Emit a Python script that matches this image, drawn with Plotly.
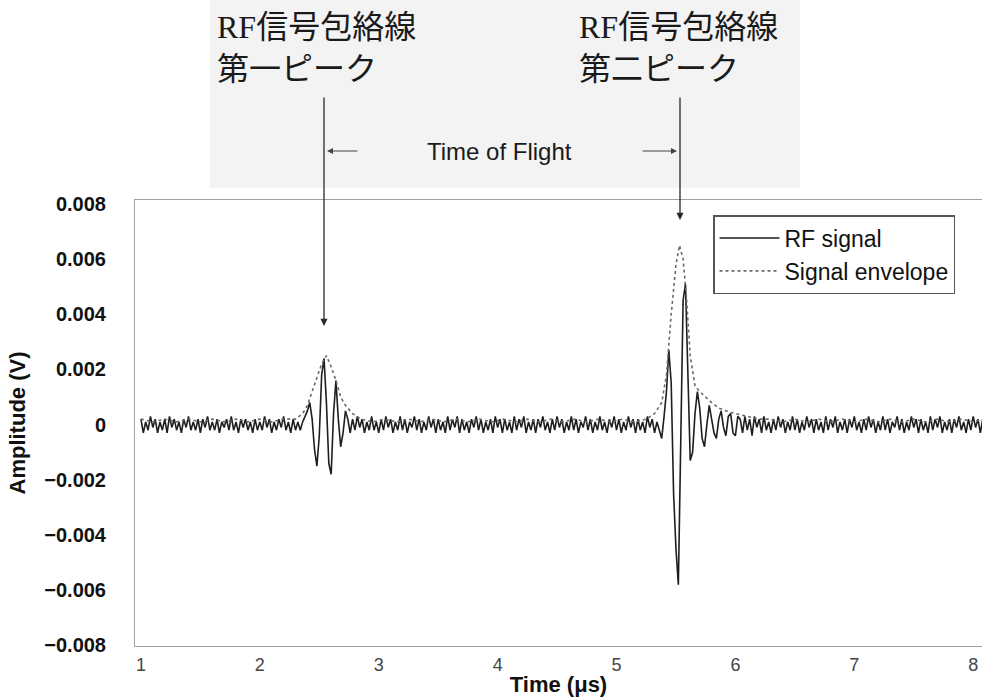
import plotly.graph_objects as go

# ---------------- data ----------------
time_us = [
    1.00,1.02,1.04,1.06,1.08,1.10,1.12,1.14,1.16,1.18,1.20,1.22,1.24,1.26,1.28,1.30,1.32,1.34,1.36,1.38,1.40,1.42,1.44,1.46,1.48,
    1.50,1.52,1.54,1.56,1.58,1.60,1.62,1.64,1.66,1.68,1.70,1.72,1.74,1.76,1.78,1.80,1.82,1.84,1.86,1.88,1.90,1.92,1.94,1.96,1.98,
    2.00,2.02,2.04,2.06,2.08,2.10,2.12,2.14,2.16,2.18,2.20,2.22,2.24,2.26,2.28,2.30,2.32,2.34,2.36,2.38,2.40,2.42,2.44,2.46,2.48,
    2.50,2.52,2.54,2.56,2.58,2.60,2.62,2.64,2.66,2.68,2.70,2.72,2.74,2.76,2.78,2.80,2.82,2.84,2.86,2.88,2.90,2.92,2.94,2.96,2.98,
    3.00,3.02,3.04,3.06,3.08,3.10,3.12,3.14,3.16,3.18,3.20,3.22,3.24,3.26,3.28,3.30,3.32,3.34,3.36,3.38,3.40,3.42,3.44,3.46,3.48,
    3.50,3.52,3.54,3.56,3.58,3.60,3.62,3.64,3.66,3.68,3.70,3.72,3.74,3.76,3.78,3.80,3.82,3.84,3.86,3.88,3.90,3.92,3.94,3.96,3.98,
    4.00,4.02,4.04,4.06,4.08,4.10,4.12,4.14,4.16,4.18,4.20,4.22,4.24,4.26,4.28,4.30,4.32,4.34,4.36,4.38,4.40,4.42,4.44,4.46,4.48,
    4.50,4.52,4.54,4.56,4.58,4.60,4.62,4.64,4.66,4.68,4.70,4.72,4.74,4.76,4.78,4.80,4.82,4.84,4.86,4.88,4.90,4.92,4.94,4.96,4.98,
    5.00,5.02,5.04,5.06,5.08,5.10,5.12,5.14,5.16,5.18,5.20,5.22,5.24,5.26,5.28,5.30,5.32,5.34,5.36,5.38,5.40,5.42,5.44,5.46,5.48,
    5.50,5.52,5.54,5.56,5.58,5.60,5.62,5.64,5.66,5.68,5.70,5.72,5.74,5.76,5.78,5.80,5.82,5.84,5.86,5.88,5.90,5.92,5.94,5.96,5.98,
    6.00,6.02,6.04,6.06,6.08,6.10,6.12,6.14,6.16,6.18,6.20,6.22,6.24,6.26,6.28,6.30,6.32,6.34,6.36,6.38,6.40,6.42,6.44,6.46,6.48,
    6.50,6.52,6.54,6.56,6.58,6.60,6.62,6.64,6.66,6.68,6.70,6.72,6.74,6.76,6.78,6.80,6.82,6.84,6.86,6.88,6.90,6.92,6.94,6.96,6.98,
    7.00,7.02,7.04,7.06,7.08,7.10,7.12,7.14,7.16,7.18,7.20,7.22,7.24,7.26,7.28,7.30,7.32,7.34,7.36,7.38,7.40,7.42,7.44,7.46,7.48,
    7.50,7.52,7.54,7.56,7.58,7.60,7.62,7.64,7.66,7.68,7.70,7.72,7.74,7.76,7.78,7.80,7.82,7.84,7.86,7.88,7.90,7.92,7.94,7.96,7.98,
    8.00,8.02,8.04,8.06,8.08,
]

# RF signal amplitude, in units of 0.1 mV (1e-4 V)
rf_signal_01mV = [
    2,-3,1,-2,3,-1,2,-3,1,-2,2,-3,3,-1,2,-2,1,-3,2,-1,3,-2,1,-2,2,
    -3,2,-1,3,-2,1,-2,2,-3,1,-1,2,-2,3,-2,1,-3,2,-1,2,-2,1,-3,2,-2,
    1,-2,3,-1,2,-3,1,-2,2,-1,3,-2,1,-3,2,-2,1,-2,1,3,5,8,2,-9,-15,
    -4,18,24,8,-14,-18,4,16,2,-8,-3,5,2,-3,2,-2,3,-1,2,-3,1,-2,3,-2,1,
    -3,2,-2,3,-1,2,-3,1,-2,3,-2,2,-3,1,-1,3,-2,2,-3,1,-2,3,-1,2,-3,
    2,-2,1,-3,3,-2,2,-1,3,-3,2,-2,1,-3,2,-1,3,-2,2,-3,1,-2,2,-3,3,
    -1,2,-3,2,-2,1,-3,3,-2,2,-1,3,-3,1,-2,2,-3,2,-1,3,-2,1,-3,2,-2,
    3,-1,2,-3,1,-2,3,-2,2,-3,1,-1,3,-2,2,-3,1,-2,3,-2,1,-3,2,-1,3,
    -2,2,-3,1,-2,3,-1,2,-3,2,-2,1,-3,3,-1,2,-3,1,-2,-5,3,12,27,15,-25,
    -45,-58,-10,45,51,15,-13,-10,4,12,6,-5,-8,0,7,2,-3,-5,2,5,-1,-4,3,4,-3,
    -4,3,2,-3,3,-2,2,-4,3,-1,2,-3,3,-2,1,-3,2,-2,3,-1,2,-3,1,-2,3,
    -2,2,-3,1,-2,3,-1,2,-3,2,-2,1,-3,3,-2,2,-1,3,-3,1,-2,2,-3,2,-1,
    3,-2,1,-3,2,-2,3,-1,2,-3,1,-2,3,-2,2,-3,1,-1,3,-2,2,-3,1,-2,3,
    -1,2,-3,2,-2,1,-3,3,-2,2,-1,3,-3,1,-2,2,-3,2,-1,3,-2,1,-3,2,-2,
    3,-1,2,-3,2,
]

envelope_time_us = [
    1.0,1.1,1.2,1.3,1.4,1.5,1.6,1.7,1.8,1.9,2.0,2.1,2.2,2.3,
    2.36,2.40,2.44,2.48,2.52,2.56,2.60,2.64,2.68,2.72,2.78,2.85,
    2.95,3.05,3.15,3.25,3.35,3.45,3.55,3.65,3.75,3.85,3.95,4.05,4.15,4.25,
    4.35,4.45,4.55,4.65,4.75,4.85,4.95,5.05,5.15,5.25,
    5.32,5.38,5.42,5.46,5.50,5.53,5.56,5.59,5.62,5.66,5.70,5.75,5.80,5.86,5.92,
    6.00,6.10,6.20,6.30,6.40,6.50,6.60,6.70,6.80,6.90,7.00,7.10,7.20,7.30,
    7.40,7.50,7.60,7.70,7.80,7.90,8.00,8.08,
]
envelope_01mV = [
    2,1,2,1,2,1,2,1,2,1,2,1,2,2,
    4,7,12,17,22,25,21,16,10,7,4,2,
    1,2,1,2,1,2,1,2,1,2,1,2,1,2,
    1,2,1,2,1,2,1,2,1,2,
    4,8,18,40,58,65,60,45,25,14,12,10,8,6,5,
    4,3,2,2,1,2,1,2,1,2,1,2,1,2,
    1,2,1,2,1,2,1,2,
]

y_tick_vals = [0.008, 0.006, 0.004, 0.002, 0, -0.002, -0.004, -0.006, -0.008]
y_tick_text = ["0.008", "0.006", "0.004", "0.002", "0", "\u22120.002", "\u22120.004", "\u22120.006", "\u22120.008"]
x_tick_vals = [1, 2, 3, 4, 5, 6, 7, 8]

assert len(time_us) == len(rf_signal_01mV)
assert len(envelope_time_us) == len(envelope_01mV)

rf_volts = [v * 1e-4 for v in rf_signal_01mV]
env_volts = [v * 1e-4 for v in envelope_01mV]

# ---------------- geometry helpers (pixel -> paper) ----------------
W, H = 982, 697
L, R, T, B = 135, 0, 200, 51
PW, PH = W - L - R, H - T - B


def px(x):
    return (x - L) / PW


def py(y):
    return (H - B - y) / PH


fig = go.Figure()
fig.add_trace(go.Scatter(
    x=time_us, y=rf_volts, mode="lines", name="RF signal",
    line=dict(color="#1e1e1e", width=1.6),
))
fig.add_trace(go.Scatter(
    x=envelope_time_us, y=env_volts, mode="lines", name="Signal envelope",
    line=dict(color="#6a6a6a", width=1.6, dash="dot"),
))

sans = "Liberation Sans, Arial, sans-serif"
jp = "Noto Sans CJK JP"

annotations = []
# Japanese labels
for xl, second in [(215, "第一ピーク"), (577, "第二ピーク")]:
    annotations.append(dict(
        xref="paper", yref="paper", x=px(xl), y=py(45), xanchor="left", yanchor="middle",
        showarrow=False, align="left",
        text=("<span style=\"font-family:'Liberation Serif'\">RF</span>信号包絡線<br>" + second),
        font=dict(family=jp, size=32, color="#1a1a1a"),
    ))
# vertical arrows
for xa, tip, tail in [(324, 326, 96), (680, 220, 96)]:
    annotations.append(dict(
        xref="paper", yref="paper", x=px(xa), y=py(tip), ax=0, ay=-(tip - tail),
        text="", showarrow=True, arrowhead=2, arrowsize=1.1, arrowwidth=1.3,
        arrowcolor="#2a2a2a", standoff=0,
    ))
# horizontal arrows
for head, tail in [(327, 359), (677, 641)]:
    annotations.append(dict(
        xref="paper", yref="paper", x=px(head), y=py(151), ax=tail - head, ay=0,
        text="", showarrow=True, arrowhead=2, arrowsize=1.0, arrowwidth=1.2,
        arrowcolor="#444444", standoff=0,
    ))
annotations.append(dict(
    xref="paper", yref="paper", x=px(499), y=py(151), xanchor="center", yanchor="middle",
    showarrow=False, text="Time of Flight", font=dict(family=sans, size=24, color="#1a1a1a"),
))

shapes = [dict(
    type="rect", xref="paper", yref="paper", x0=px(210), x1=px(800), y0=py(188), y1=py(0),
    fillcolor="#f3f3f3", line=dict(width=0), layer="below",
)]

fig.update_layout(
    width=W, height=H,
    margin=dict(l=L, r=R, t=T, b=B, autoexpand=False),
    paper_bgcolor="white", plot_bgcolor="rgba(0,0,0,0)",
    showlegend=True,
    legend=dict(
        x=px(713), y=py(215), xanchor="left", yanchor="top",
        bgcolor="white", bordercolor="#555555", borderwidth=1.5,
        font=dict(family=sans, size=23, color="#111111"),
        itemwidth=60, tracegroupgap=0,
    ),
    annotations=annotations,
    shapes=shapes,
    xaxis=dict(
        range=[0.95, 8.074], tickvals=x_tick_vals, ticks="", showgrid=False, zeroline=False,
        showline=True, linecolor="#a0a0a0", linewidth=1, mirror=True, automargin=False,
        tickfont=dict(family=sans, size=18, color="#444444"), ticklabelstandoff=2,
        title=dict(text="<b>Time (μs)</b>", font=dict(family=sans, size=22, color="#111111"), standoff=4),
    ),
    yaxis=dict(
        range=[-0.00802, 0.00814], tickvals=y_tick_vals, ticktext=y_tick_text, ticks="",
        showgrid=False, zeroline=False, showline=True, linecolor="#a0a0a0", linewidth=1,
        mirror=False, automargin=False,
        tickfont=dict(family=sans, size=20, color="#111111", weight="bold"), ticklabelstandoff=24,
        title=dict(text="<b>Amplitude (V)</b>", font=dict(family=sans, size=22, color="#111111"), standoff=12),
    ),
)

fig.write_html(
    "out.html",
    config={"displayModeBar": False},
    post_script="document.body.style.margin='0px';document.body.style.overflow='hidden';",
)
